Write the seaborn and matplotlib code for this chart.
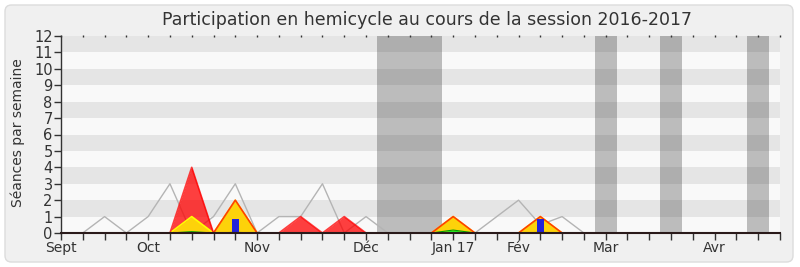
import matplotlib
matplotlib.use("Agg")
import matplotlib.pyplot as plt
import seaborn as sns
import pandas as pd
from matplotlib.patches import FancyBboxPatch

# Weekly series for the 2016-2017 session (week 0 = first week of September)
weeks = list(range(34))
median_presence = [0, 0, 1, 0, 1, 3, 0, 1, 3, 0, 1, 1, 3, 0, 1, 0, 0, 0,
                   0, 0, 1, 2, 0.5, 1, 0, 0, 0, 0, 0, 0, 0, 0, 0, 0]
presence = [0, 0, 0, 0, 0, 0, 4, 0, 2, 0, 0, 1, 0, 1, 0, 0, 0, 0,
            1, 0, 0, 0, 1, 0, 0, 0, 0, 0, 0, 0, 0, 0, 0, 0]
participation = [0, 0, 0, 0, 0, 0, 1, 0, 2, 0, 0, 0, 0, 0, 0, 0, 0, 0,
                 1, 0, 0, 0, 1, 0, 0, 0, 0, 0, 0, 0, 0, 0, 0, 0]
amendments = [0, 0, 0, 0, 0, 0, 0.08, 0, 0.04, 0, 0, 0, 0, 0, 0, 0, 0, 0,
              0.18, 0, 0, 0, 0.04, 0, 0, 0, 0, 0, 0, 0, 0, 0, 0, 0]
questions = [0, 0, 0, 0, 0, 0, 0, 0, 0.85, 0, 0, 0, 0, 0, 0, 0, 0, 0,
             0, 0, 0, 0, 0.85, 0, 0, 0, 0, 0, 0, 0, 0, 0, 0, 0]

# Recess periods (in weeks)
recess_start = [14.5, 24.5, 27.5, 31.5]
recess_end = [17.5, 25.5, 28.5, 32.5]

month_ticks = [0, 4, 9, 14, 18, 21, 25, 30]
month_labels = ["Sept", "Oct", "Nov", "Déc", "Jan 17", "Fév", "Mar", "Avr"]
y_ticks = list(range(13))

df = pd.DataFrame({
    "week": weeks,
    "median": median_presence,
    "presence": presence,
    "participation": participation,
    "amendments": amendments,
    "questions": questions,
})

sns.set_theme(style="white")
plt.rcParams["font.family"] = ["DejaVu Sans"]

W, H = 800, 267
fig = plt.figure(figsize=(W / 100, H / 100), dpi=100)
fig.patch.set_facecolor("white")
fig.patches.append(FancyBboxPatch(
    (5 / W, 5 / H), 788 / W, 257 / H,
    boxstyle="round,pad=0,rounding_size=0.008", mutation_aspect=W / H,
    transform=fig.transFigure, facecolor="#f0f0f0", edgecolor="#dcdcdc",
    linewidth=1.0, zorder=-10))

ax = fig.add_axes([61 / W, 34 / H, 719 / W, 197 / H])
ax.set_zorder(1)
ax.set_facecolor("#f9f9f9")

# Horizontal stripes
for n in range(1, 12, 2):
    ax.axhspan(n, n + 1, color="#e5e5e5", lw=0, zorder=0)

# Recess bands
for a, b in zip(recess_start, recess_end):
    ax.axvspan(a, b, color="#313131", alpha=0.3, lw=0, zorder=1)

# Median presence of all deputies
sns.lineplot(data=df, x="week", y="median", ax=ax, color="#b4b4b4",
             linewidth=1.0, zorder=2, legend=False)

# Presence (red), participation (yellow), amendments (green)
ax.fill_between(df["week"], df["presence"], color="#ff0000", alpha=0.75,
                lw=0, zorder=3)
ax.fill_between(df["week"], df["participation"], color="#fdd20a",
                lw=0, zorder=4)
sns.lineplot(data=df, x="week", y="participation", ax=ax, color="#ffff00",
             linewidth=1.2, zorder=5, legend=False)
sns.lineplot(data=df, x="week", y="presence", ax=ax, color="#ff0000",
             alpha=0.75, linewidth=1.2, zorder=6, legend=False)
ax.fill_between(df["week"], df["amendments"], color="#22ee22",
                lw=0, zorder=7)
sns.lineplot(data=df, x="week", y="amendments", ax=ax, color="#00a000",
             linewidth=0.8, zorder=7, legend=False)

# Oral questions
ax.bar(df["week"], df["questions"], width=0.33, color="#2323d9",
       lw=0, zorder=8)

ax.set_xlim(0, 33)
ax.set_ylim(0, 12)
ax.set_xticks(weeks)
ax.set_xticklabels([month_labels[month_ticks.index(w)] if w in month_ticks else ""
                    for w in weeks])
ax.set_yticks(y_ticks)
ax.set_yticklabels([str(v) for v in y_ticks])
ax.set_xlabel("")
ax.set_ylabel("")

for side in ("top", "right"):
    ax.spines[side].set_visible(False)
ax.spines["left"].set_color("#333333")
ax.spines["left"].set_linewidth(1.0)
ax.spines["bottom"].set_color("#2a1a1a")
ax.spines["bottom"].set_linewidth(1.5)
ax.spines["bottom"].set_zorder(10)

ax.tick_params(axis="x", bottom=True, length=5, width=1, color="#333333",
               labelsize=10, labelcolor="#333333", pad=1)
ax.tick_params(axis="y", left=True, length=5, width=1, color="#333333",
               labelsize=10.5, labelcolor="#333333", pad=1)

top = ax.secondary_xaxis("top")
top.set_xticks(weeks)
top.set_xticklabels([])
top.tick_params(length=2, width=1, color="#333333", direction="inout")
top.spines["top"].set_visible(False)

fig.text(427 / W, 1 - 20 / H,
         "Participation en hemicycle au cours de la session 2016-2017",
         ha="center", va="center", fontsize=12.5, color="#333333")
fig.text(18 / W, 1 - 133 / H, "Séances par semaine", rotation=90,
         ha="center", va="center", fontsize=10, color="#333333")

fig.savefig("out.png", dpi=100, facecolor=fig.get_facecolor())
